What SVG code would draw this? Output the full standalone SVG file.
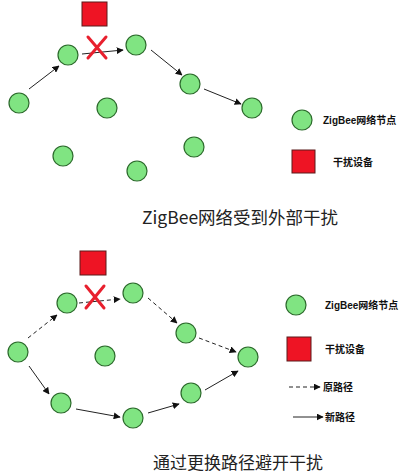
<svg xmlns="http://www.w3.org/2000/svg" width="413" height="473" viewBox="0 0 413 473">
<defs>
<marker id="ah" viewBox="0 0 10 10" refX="9" refY="5" markerWidth="7" markerHeight="7" markerUnits="userSpaceOnUse" orient="auto">
<path d="M0,0 L10,5 L0,10 z" fill="#111"/>
</marker>
</defs>
<style>
.node{fill:#80e482;stroke:#2b6a2b;stroke-width:1.2}
.dev{fill:#ee1424;stroke:#5a1a1a;stroke-width:1}
.x{stroke:#e8202e;stroke-width:3;stroke-linecap:round}
.c{stroke:#222;stroke-width:1;fill:none;marker-end:url(#ah)}
.d{stroke-dasharray:4,3}
.lg{font-family:"Liberation Sans","Noto Sans CJK SC",sans-serif;font-weight:bold;font-size:10px;fill:#111}
.t{font-family:"Noto Sans CJK SC",sans-serif;fill:#222}
</style>
<rect width="413" height="473" fill="#fff"/>
<g id="connectors">
<line class="c" x1="29" y1="89" x2="59" y2="66"/>
<line class="c" x1="82" y1="54" x2="123" y2="50"/>
<line class="c" x1="151" y1="50" x2="182" y2="75"/>
<line class="c" x1="204" y1="89" x2="241" y2="104"/>
<line class="c d" x1="28" y1="338" x2="57" y2="315"/>
<line class="c d" x1="79" y1="303" x2="120" y2="299"/>
<line class="c d" x1="148" y1="298" x2="177" y2="323"/>
<line class="c d" x1="199" y1="338" x2="236" y2="352"/>
<line class="c" x1="29" y1="366" x2="49" y2="394"/>
<line class="c" x1="76" y1="409" x2="120" y2="417"/>
<line class="c" x1="148" y1="413" x2="179" y2="404"/>
<line class="c" x1="205" y1="390" x2="238" y2="371"/>
<line class="c d" x1="289" y1="387" x2="320" y2="387"/>
<line class="c" x1="293" y1="417" x2="323" y2="417"/>
</g>
<g id="top-device"><rect class="dev" x="82" y="2" width="25" height="24"/></g>
<g id="top-x"><line class="x" x1="88" y1="37" x2="106" y2="58"/><line class="x" x1="106" y1="37" x2="88" y2="58"/></g>
<g id="t-a"><circle class="node" cx="19" cy="103" r="10"/></g>
<g id="t-b"><circle class="node" cx="68" cy="55" r="10"/></g>
<g id="t-c"><circle class="node" cx="136" cy="45" r="10"/></g>
<g id="t-d"><circle class="node" cx="190" cy="84" r="10"/></g>
<g id="t-e"><circle class="node" cx="252" cy="108" r="10"/></g>
<g id="t-f"><circle class="node" cx="107" cy="108" r="10"/></g>
<g id="t-g"><circle class="node" cx="63" cy="156" r="10"/></g>
<g id="t-h"><circle class="node" cx="137" cy="171" r="10"/></g>
<g id="t-i"><circle class="node" cx="194" cy="147" r="10"/></g>
<g id="t-legend-node"><circle class="node" cx="302" cy="120" r="10"/><text class="lg" x="323" y="124">ZigBee网络节点</text></g>
<g id="t-legend-dev"><rect class="dev" x="292" y="150" width="23" height="23"/><text class="lg" x="333" y="166">干扰设备</text></g>
<text class="t" x="142" y="224" font-size="17.5">ZigBee网络受到外部干扰</text>
<g id="bottom-device"><rect class="dev" x="80" y="251" width="26" height="24"/></g>
<g id="bottom-x"><line class="x" x1="86" y1="286" x2="104" y2="308"/><line class="x" x1="104" y1="286" x2="86" y2="308"/></g>
<g id="b-a"><circle class="node" cx="18" cy="352" r="10"/></g>
<g id="b-b"><circle class="node" cx="67" cy="303" r="10"/></g>
<g id="b-c"><circle class="node" cx="133" cy="293" r="10"/></g>
<g id="b-d"><circle class="node" cx="186" cy="333" r="10"/></g>
<g id="b-e"><circle class="node" cx="248" cy="357" r="10"/></g>
<g id="b-f"><circle class="node" cx="105" cy="356" r="10"/></g>
<g id="b-g"><circle class="node" cx="61" cy="403" r="10"/></g>
<g id="b-h"><circle class="node" cx="133" cy="418" r="10"/></g>
<g id="b-i"><circle class="node" cx="191" cy="393" r="10"/></g>
<g id="b-legend-node"><circle class="node" cx="296" cy="305" r="10"/><text class="lg" x="325" y="309">ZigBee网络节点</text></g>
<g id="b-legend-dev"><rect class="dev" x="287" y="337" width="24" height="24"/><text class="lg" x="325" y="353">干扰设备</text></g>
<g id="b-legend-old"><text class="lg" x="323" y="391">原路径</text></g>
<g id="b-legend-new"><text class="lg" x="325" y="421">新路径</text></g>
<text class="t" x="153" y="469" font-size="17">通过更换路径避开干扰</text>
</svg>
